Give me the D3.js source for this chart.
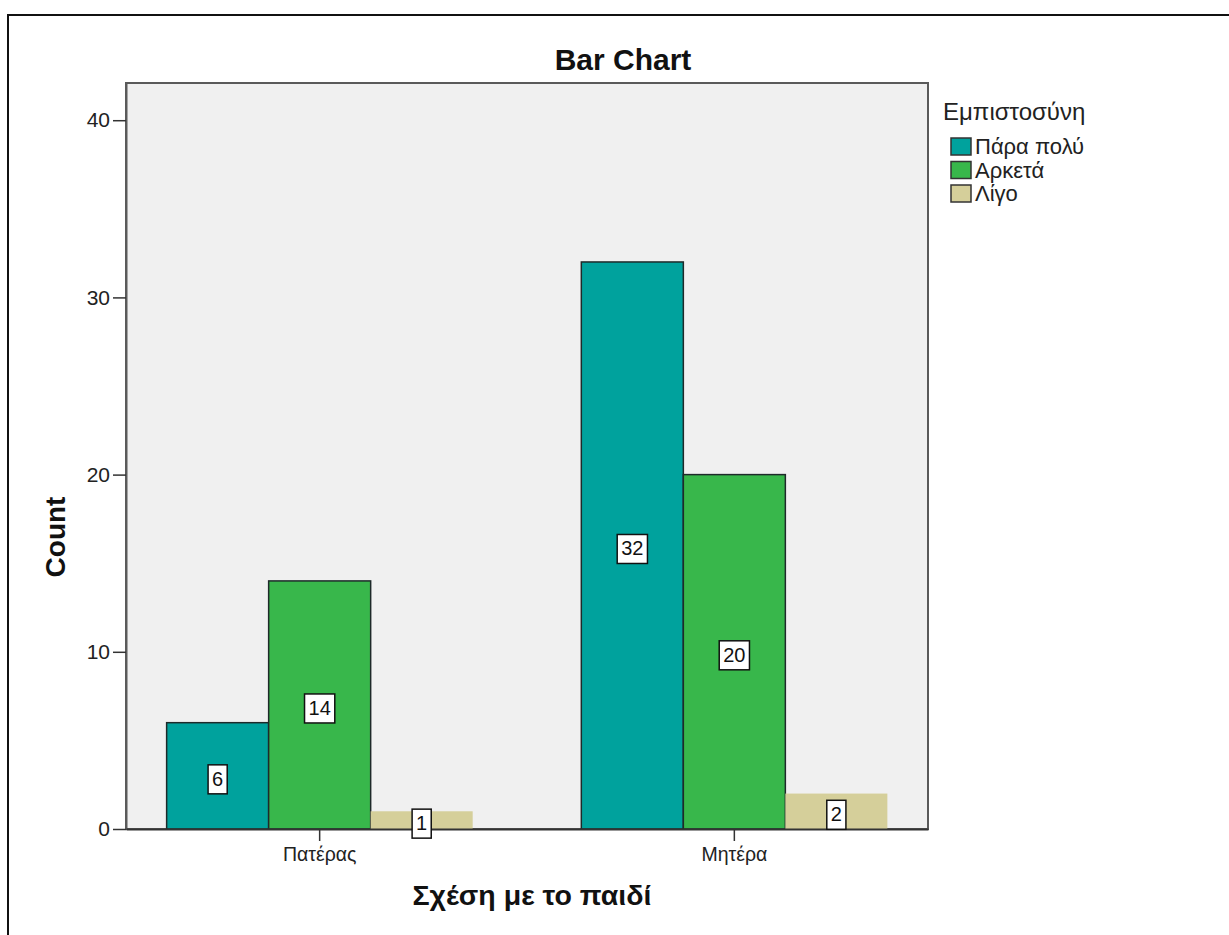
<!DOCTYPE html>
<html>
<head>
<meta charset="utf-8">
<script src="https://cdn.jsdelivr.net/npm/d3@7"></script>
<style>
  html, body { margin: 0; padding: 0; background: #fff; }
  svg { display: block; }
</style>
</head>
<body>
<svg id="chart" width="1229" height="935"></svg>
<script>
// ---- data ----
const categories = ["Πατέρας", "Μητέρα"];
const seriesNames = ["Πάρα πολύ", "Αρκετά", "Λίγο"];
const valuesParaPolu = [6, 32];
const valuesArketa = [14, 20];
const valuesLigo = [1, 2];
const yTickValues = [0, 10, 20, 30, 40];
const chartTitle = "Bar Chart";
const xTitle = "Σχέση με το παιδί";
const yTitle = "Count";
const legendTitle = "Εμπιστοσύνη";
const seriesColors = ["#00a29d", "#38b74b", "#d5cf9a"];

const seriesValues = [valuesParaPolu, valuesArketa, valuesLigo];
const rows = [];
categories.forEach((c, ci) => {
  seriesNames.forEach((s, si) => rows.push({cat: c, series: s, si, value: seriesValues[si][ci]}));
});

const FONT = "Liberation Sans, Arial, sans-serif";
const svg = d3.select("#chart");

// outer frame
svg.append("rect").attr("x", 8).attr("y", 15).attr("width", 1240).attr("height", 960)
  .attr("fill", "none").attr("stroke", "#111").attr("stroke-width", 2);

const plot = {left: 126, top: 83, right: 928, bottom: 829};

const x = d3.scaleBand().domain(categories).range([plot.left, plot.right])
  .paddingInner(0.262).paddingOuter(0.098);
const xs = d3.scaleBand().domain(seriesNames).range([0, x.bandwidth()]).padding(0);
const y = d3.scaleLinear().domain([0, 42.1]).range([plot.bottom, plot.top]);
const color = d3.scaleOrdinal().domain(seriesNames).range(seriesColors);

// plot background
svg.append("rect").attr("x", plot.left).attr("y", plot.top)
  .attr("width", plot.right - plot.left).attr("height", plot.bottom - plot.top)
  .attr("fill", "#f0f0f0").attr("stroke", "#5a5a5a").attr("stroke-width", 2);

// bars
svg.append("g").selectAll("rect").data(rows).join("rect")
  .attr("x", d => x(d.cat) + xs(d.series))
  .attr("y", d => y(d.value))
  .attr("width", xs.bandwidth())
  .attr("height", d => y(0) - y(d.value))
  .attr("fill", d => color(d.series))
  .attr("stroke", d => d.si < 2 ? "#1e2a2a" : "none")
  .attr("stroke-width", 1.5);

// axes
const yAxis = d3.axisLeft(y).tickValues(yTickValues).tickSize(13).tickSizeOuter(0).tickPadding(3).tickFormat(d3.format("d"));
const gy = svg.append("g").attr("transform", `translate(${plot.left},0)`).call(yAxis);
gy.select(".domain").attr("stroke", "#5a5a5a").attr("stroke-width", 2);
gy.selectAll(".tick line").attr("stroke", "#333").attr("stroke-width", 1.5);
gy.selectAll(".tick text").attr("font-family", FONT)
  .attr("font-size", 21).attr("fill", "#222");

const xAxis = d3.axisBottom(x).tickSize(12).tickSizeOuter(0).tickPadding(6);
const gx = svg.append("g").attr("transform", `translate(0,${plot.bottom})`).call(xAxis);
gx.select(".domain").attr("stroke", "#333").attr("stroke-width", 2);
gx.selectAll(".tick line").attr("stroke", "#333").attr("stroke-width", 1.5);
gx.selectAll(".tick text").attr("font-family", FONT)
  .attr("font-size", 19.5).attr("fill", "#222");

// value labels
const lab = svg.append("g").selectAll("g").data(rows).join("g")
  .attr("transform", d => `translate(${x(d.cat) + xs(d.series) + xs.bandwidth() / 2},${(y(0) + y(d.value)) / 2 + 3})`);
lab.append("text").attr("text-anchor", "middle").attr("dy", "0.35em")
  .attr("font-family", FONT).attr("font-size", 20).attr("fill", "#111")
  .text(d => d.value);
lab.each(function() {
  const g = d3.select(this);
  const bb = g.select("text").node().getBBox();
  g.insert("rect", "text").attr("x", bb.x - 4).attr("y", -14).attr("width", bb.width + 8).attr("height", 29)
    .attr("fill", "#fff").attr("stroke", "#111").attr("stroke-width", 1.5);
});

// titles
svg.append("text").attr("x", 623).attr("y", 70).attr("text-anchor", "middle")
  .attr("font-family", FONT).attr("font-weight", "bold").attr("font-size", 30)
  .attr("fill", "#111").text(chartTitle);
svg.append("text").attr("x", 532).attr("y", 905).attr("text-anchor", "middle")
  .attr("font-family", FONT).attr("font-weight", "bold").attr("font-size", 28.5)
  .attr("fill", "#111").text(xTitle);
svg.append("text").attr("transform", "translate(65,537) rotate(-90)").attr("text-anchor", "middle")
  .attr("font-family", FONT).attr("font-weight", "bold").attr("font-size", 28)
  .attr("fill", "#111").text(yTitle);

// legend
const lg = svg.append("g");
lg.append("text").attr("x", 943).attr("y", 120)
  .attr("font-family", FONT).attr("font-size", 24).attr("fill", "#222")
  .text(legendTitle);
const li = lg.selectAll("g.item").data(seriesNames).join("g").attr("class", "item")
  .attr("transform", (d, i) => `translate(951,${138 + i * 23.5})`);
li.append("rect").attr("width", 20).attr("height", 17).attr("fill", d => color(d))
  .attr("stroke", "#333").attr("stroke-width", 1.5);
li.append("text").attr("x", 24).attr("y", 16)
  .attr("font-family", FONT).attr("font-size", 22).attr("fill", "#222")
  .text(d => d);
</script>
</body>
</html>
